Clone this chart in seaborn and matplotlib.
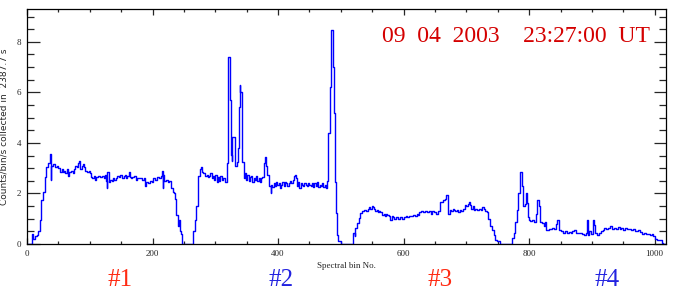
import matplotlib
matplotlib.use("Agg")
import matplotlib.pyplot as plt
import seaborn as sns
import pandas as pd
from matplotlib.ticker import MultipleLocator

bins = [0, 8, 10, 13, 16, 18, 20, 21, 22, 23, 25, 26, 28, 29, 31, 33, 34, 36, 37, 38, 39, 41, 44, 47, 50, 52, 53, 55, 57, 59, 61, 63, 65, 67, 70, 73, 75, 77, 79, 81, 83, 85, 87, 89, 91, 93, 95, 98, 100, 102, 104, 106, 108, 110, 113, 116, 119, 122, 124, 126, 127, 128, 130, 133, 135, 137, 139, 141, 144, 146, 148, 151, 154, 156, 158, 160, 162, 164, 166, 168, 170, 173, 176, 180, 183, 186, 188, 190, 193, 196, 199, 201, 204, 207, 210, 213, 215, 216, 217, 219, 222, 225, 227, 230, 232, 234, 236, 238, 240, 242, 243, 245, 247, 264, 268, 270, 272, 273, 275, 277, 279, 281, 284, 286, 288, 290, 292, 294, 296, 298, 300, 302, 304, 306, 308, 310, 313, 316, 318, 320, 321, 324, 325, 326, 327, 331, 334, 336, 337, 339, 340, 342, 343, 345, 347, 349, 351, 353, 355, 357, 359, 361, 363, 365, 367, 369, 371, 373, 375, 377, 379, 381, 383, 385, 386, 388, 389, 391, 393, 395, 397, 399, 401, 403, 405, 407, 409, 411, 413, 415, 417, 419, 421, 423, 425, 427, 429, 430, 432, 434, 436, 438, 440, 442, 444, 446, 448, 450, 452, 454, 456, 458, 460, 462, 464, 466, 468, 470, 472, 474, 476, 478, 480, 482, 484, 487, 489, 490, 491, 492, 493, 494, 495, 500, 520, 522, 523, 526, 529, 531, 534, 537, 540, 543, 545, 547, 549, 551, 553, 555, 557, 559, 561, 563, 566, 568, 570, 572, 574, 577, 579, 581, 583, 585, 588, 591, 594, 597, 600, 603, 606, 609, 612, 615, 618, 621, 623, 625, 628, 631, 634, 637, 640, 643, 646, 649, 652, 655, 658, 663, 666, 668, 670, 671, 674, 676, 678, 680, 682, 685, 687, 690, 692, 695, 698, 700, 702, 704, 706, 708, 710, 712, 714, 717, 720, 723, 725, 728, 730, 733, 735, 738, 741, 744, 746, 749, 754, 773, 776, 778, 781, 783, 785, 788, 790, 793, 795, 796, 798, 800, 802, 805, 808, 811, 813, 816, 818, 821, 823, 825, 827, 831, 834, 837, 840, 843, 845, 848, 851, 854, 857, 860, 863, 866, 869, 872, 875, 878, 881, 884, 887, 890, 892, 894, 896, 899, 901, 903, 905, 908, 911, 914, 917, 920, 923, 926, 929, 932, 935, 938, 941, 944, 947, 950, 953, 956, 959, 962, 965, 968, 971, 974, 977, 980, 983, 986, 989, 992, 995, 998, 1000, 1003, 1008, 1011, 1013, 1020]

counts = [0.0, 0.4, 0.2, 0.3, 0.35, 0.5, 0.7, 0.95, 1.3, 1.74, 2.0, 2.07, 2.5, 2.67, 3.06, 3.15, 3.19, 3.3, 3.56, 2.55, 3.1, 3.15, 3.05, 3.1, 3.0, 2.9, 2.85, 2.95, 2.85, 2.9, 2.8, 2.95, 2.7, 2.85, 2.9, 2.8, 2.95, 3.1, 3.05, 3.2, 3.3, 2.95, 3.1, 3.15, 3.05, 2.9, 2.85, 2.9, 2.8, 2.65, 2.6, 2.7, 2.55, 2.65, 2.7, 2.65, 2.7, 2.6, 2.75, 2.5, 2.2, 2.85, 2.45, 2.55, 2.5, 2.6, 2.55, 2.6, 2.7, 2.65, 2.75, 2.6, 2.7, 2.75, 2.6, 2.7, 2.85, 2.65, 2.6, 2.65, 2.7, 2.55, 2.6, 2.6, 2.55, 2.6, 2.3, 2.45, 2.4, 2.5, 2.45, 2.6, 2.55, 2.65, 2.6, 2.7, 2.9, 2.2, 2.75, 2.5, 2.55, 2.45, 2.5, 2.2, 2.05, 2.0, 1.8, 1.15, 0.7, 0.95, 0.5, 0.4, 0.0, 0.5, 0.95, 1.5, 2.2, 2.7, 2.95, 3.05, 2.85, 2.8, 2.7, 2.75, 2.65, 2.7, 2.8, 2.6, 2.7, 2.55, 2.75, 2.45, 2.65, 2.5, 2.7, 2.55, 2.6, 2.47, 3.2, 5.7, 7.42, 5.7, 3.52, 3.3, 4.23, 3.1, 3.25, 3.8, 5.44, 6.3, 6.0, 5.8, 3.26, 2.6, 2.8, 2.55, 2.75, 2.5, 2.65, 2.7, 2.45, 2.6, 2.55, 2.7, 2.5, 2.6, 2.45, 2.6, 2.65, 3.2, 3.46, 3.1, 2.75, 2.6, 2.3, 2.0, 2.35, 2.25, 2.4, 2.3, 2.45, 2.35, 2.4, 2.2, 2.35, 2.45, 2.3, 2.45, 2.4, 2.3, 2.4, 2.5, 2.4, 2.55, 2.7, 2.75, 2.6, 2.3, 2.45, 2.2, 2.4, 2.35, 2.3, 2.4, 2.35, 2.3, 2.4, 2.35, 2.3, 2.4, 2.25, 2.4, 2.3, 2.45, 2.25, 2.35, 2.3, 2.4, 2.25, 2.35, 2.2, 2.5, 4.4, 6.2, 8.47, 7.0, 5.18, 2.86, 2.47, 1.74, 1.22, 0.36, 0.1, 0.0, 0.43, 0.3, 0.65, 0.83, 1.03, 1.22, 1.3, 1.35, 1.3, 1.4, 1.45, 1.4, 1.5, 1.45, 1.4, 1.3, 1.35, 1.25, 1.3, 1.25, 1.15, 1.2, 1.1, 1.2, 1.15, 1.1, 0.96, 1.1, 1.05, 1.0, 1.05, 1.0, 1.05, 1.0, 1.05, 1.1, 1.05, 1.12, 1.1, 1.15, 1.1, 1.2, 1.15, 1.25, 1.3, 1.25, 1.3, 1.25, 1.3, 1.2, 1.3, 1.25, 1.2, 1.3, 1.68, 1.75, 1.8, 1.94, 1.5, 1.2, 1.35, 1.3, 1.4, 1.35, 1.3, 1.35, 1.25, 1.35, 1.3, 1.4, 1.55, 1.5, 1.6, 1.65, 1.55, 1.4, 1.5, 1.35, 1.4, 1.35, 1.4, 1.35, 1.45, 1.4, 1.3, 1.27, 1.0, 0.7, 0.55, 0.37, 0.15, 0.1, 0.0, 0.25, 0.45, 0.87, 1.33, 2.0, 2.86, 2.28, 1.49, 1.6, 2.0, 1.63, 1.08, 0.95, 0.9, 0.95, 0.88, 1.2, 1.74, 1.5, 0.87, 0.85, 0.7, 0.88, 0.55, 0.6, 0.58, 0.62, 0.6, 0.8, 0.95, 0.55, 0.5, 0.45, 0.5, 0.45, 0.48, 0.45, 0.5, 0.55, 0.45, 0.42, 0.45, 0.4, 0.35, 0.45, 0.95, 0.35, 0.5, 0.4, 0.95, 0.75, 0.45, 0.37, 0.45, 0.5, 0.55, 0.65, 0.6, 0.65, 0.7, 0.6, 0.65, 0.6, 0.68, 0.6, 0.62, 0.55, 0.62, 0.58, 0.6, 0.55, 0.6, 0.52, 0.5, 0.55, 0.48, 0.4, 0.45, 0.38, 0.4, 0.35, 0.38, 0.3, 0.2, 0.15, 0.15, 0.05, 0.0, 0.0]

x_ticks = [0, 200, 400, 600, 800, 1000]
y_ticks = [0, 2, 4, 6, 8]
timestamp = "09  04  2003    23:27:00  UT"
detector_labels = ["#1", "#2", "#3", "#4"]
detector_colors = ["#ff2a12", "#2222e0", "#ff2a12", "#2222e0"]

sns.set_style("white")
plt.rcParams['font.family'] = ['Liberation Serif', 'DejaVu Serif']

df = pd.DataFrame({"bin": bins, "counts": counts})

fig = plt.figure(figsize=(6.75, 2.96), dpi=100)
ax = fig.add_axes([27 / 675, 52 / 296, 639 / 675, 235 / 296])
sns.lineplot(data=df, x="bin", y="counts", ax=ax, color="#0000ff",
             drawstyle="steps-post", linewidth=1.0, estimator=None)

ax.set_xlim(0, 1018)
ax.set_ylim(0, 9.3)
ax.set_xticks(x_ticks)
ax.set_yticks(y_ticks)
ax.xaxis.set_minor_locator(MultipleLocator(50))
ax.yaxis.set_minor_locator(MultipleLocator(0.5))
ax.tick_params(axis='x', which='major', direction='in', length=4, width=0.9,
               top=True, bottom=True, labelsize=6.5, pad=4)
ax.tick_params(axis='x', which='minor', direction='in', length=2, width=0.9,
               top=True, bottom=True)
ax.tick_params(axis='y', which='major', direction='in', length=9, width=0.9,
               left=True, right=True, labelsize=6.5, pad=4)
ax.tick_params(axis='y', which='minor', direction='in', length=5, width=0.9,
               left=True, right=True)
for sp in ax.spines.values():
    sp.set_visible(True)
    sp.set_color("black")
    sp.set_linewidth(0.9)

ax.set_xlabel("Spectral bin No.", fontsize=6.5, labelpad=3)
ax.set_ylabel("Counts/bin/s collected in  2387.7 s", fontsize=6.5,
              family=['DejaVu Sans'], labelpad=6)

ax.text(0.975, 0.883, timestamp, transform=ax.transAxes, ha='right', va='center',
        color="#d40000", fontsize=17)

label_x = [120 / 675, 281 / 675, 440 / 675, 607 / 675]
for lx, lab, col in zip(label_x, detector_labels, detector_colors):
    fig.text(lx, 1 - 280 / 296, lab, ha='center', va='center', color=col, fontsize=18)

fig.savefig("out.png", dpi=100)
